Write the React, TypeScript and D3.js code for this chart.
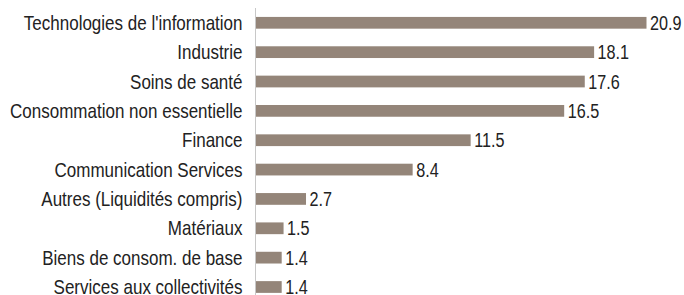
import React from "react";
import * as d3 from "d3";

const categories = [
  "Technologies de l'information",
  "Industrie",
  "Soins de santé",
  "Consommation non essentielle",
  "Finance",
  "Communication Services",
  "Autres (Liquidités compris)",
  "Matériaux",
  "Biens de consom. de base",
  "Services aux collectivités",
];
const values = [20.9, 18.1, 17.6, 16.5, 11.5, 8.4, 2.7, 1.5, 1.4, 1.4];
const valueLabels = ["20.9", "18.1", "17.6", "16.5", "11.5", "8.4", "2.7", "1.5", "1.4", "1.4"];

const W = 684;
const H = 295;
const axisX = 255.5;
const font = "'Liberation Sans', Arial, sans-serif";

export default function App() {
  const x = d3.scaleLinear().domain([0, 20.9]).range([axisX, 646.5]);
  const y = d3
    .scaleBand<string>()
    .domain(categories)
    .range([8.12, 301.68])
    .paddingInner(0.6)
    .paddingOuter(0.3);
  const bw = y.bandwidth();
  return (
    <svg
      width={W}
      height={H}
      style={{ position: "absolute", left: 0, top: 0, background: "#fff" }}
    >
      <line x1={axisX} x2={axisX} y1={8} y2={H} stroke="#c8c8c8" strokeWidth={1} />
      {categories.map((c, i) => {
        const yc = (y(c) as number) + bw / 2;
        const xe = x(values[i]);
        return (
          <g key={c}>
            <rect
              x={axisX + 0.5}
              y={(y(c) as number)}
              width={xe - axisX - 0.5}
              height={bw}
              fill="#948579"
            />
            <text
              transform={`translate(242.5,${yc + 7.2}) scale(0.81,1)`}
              textAnchor="end"
              fontFamily={font}
              fontSize={21}
              fill="#222"
            >
              {c}
            </text>
            <text
              transform={`translate(${xe + 3.5},${yc + 7.2}) scale(0.77,1)`}
              fontFamily={font}
              fontSize={21}
              fill="#222"
            >
              {valueLabels[i]}
            </text>
          </g>
        );
      })}
    </svg>
  );
}
